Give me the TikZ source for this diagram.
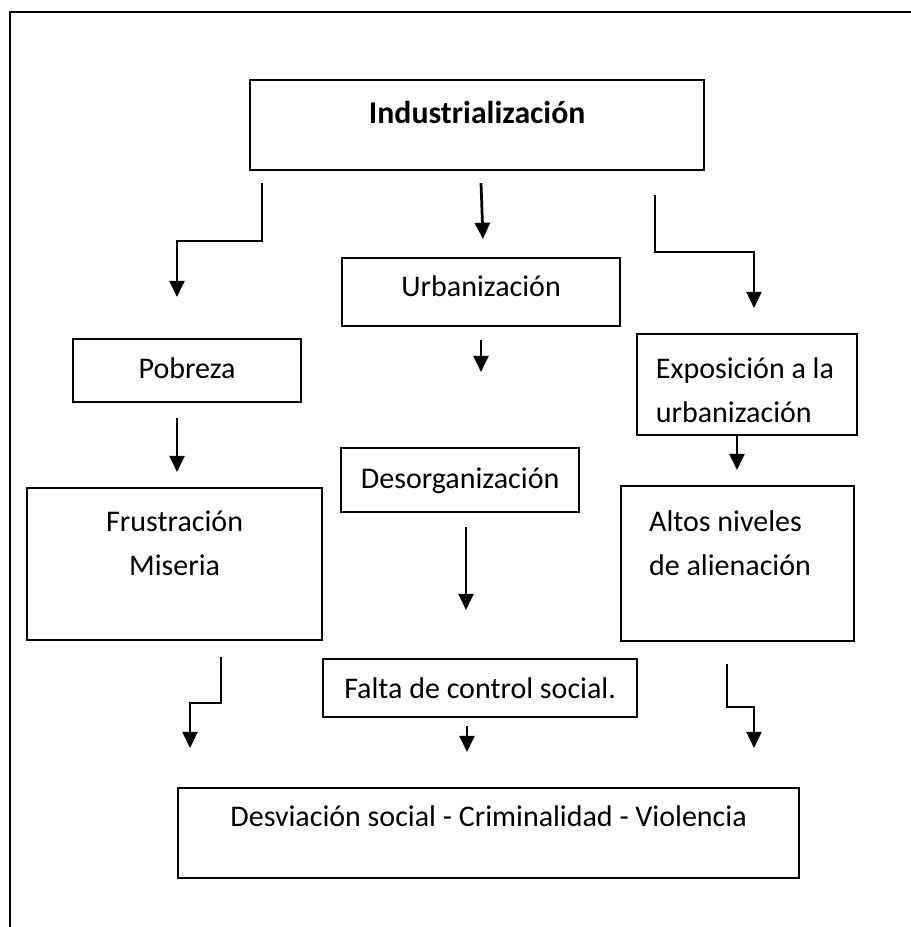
\documentclass[tikz,border=0pt]{standalone}
\usepackage{fontspec}
\setmainfont{Carlito}
\usetikzlibrary{arrows.meta}

\begin{document}
\begin{tikzpicture}[x=0.4pt, y=-0.4pt,
	every node/.style={font=\fontsize{12}{17.6}\selectfont},
	caja/.style={rectangle, draw, line width=0.9pt, inner sep=0pt, anchor=north west},
	flecha/.style={-{Triangle[width=6pt, length=6.5pt]}, line width=1.1pt}
	]

\useasboundingbox (0,0) rectangle (911,927);
\draw[line width=0.5pt] (10,927) -- (10,12) -- (911,12);

\node[caja, minimum width=181.6pt, text height=17.2pt, text depth=18.8pt, font=\fontsize{12.7}{17.6}\selectfont\bfseries] (ind) at (249,79) {Industrialización};
\node[caja, minimum width=111.2pt, text height=15.2pt, text depth=12pt] (urb) at (341,257) {Urbanización};
\node[caja, minimum width=91.2pt, text height=15.6pt, text depth=9.6pt] (pob) at (72,338) {Pobreza};
\node[caja, text width=73pt, inner xsep=7.5pt, align=flush left, text height=17.6pt, text depth=22.8pt] (exp) at (636,333) {Exposición a la\\urbanización};
\node[caja, minimum width=95.2pt, text height=16pt, text depth=9.6pt] (des) at (340,447) {Desorganización};
\node[caja, text width=118pt, align=center, text height=17.2pt, text depth=43.6pt] (fru) at (26,487) {Frustración\\Miseria};
\node[caja, text width=70.8pt, inner xsep=11.2pt, align=flush left, text height=18pt, text depth=44pt] (alt) at (620,485) {Altos niveles\\de alienación};
\node[caja, minimum width=125.6pt, text height=15.6pt, text depth=7.6pt] (fal) at (322,658) {Falta de control social.};
\node[caja, minimum width=248.4pt, text height=15.2pt, text depth=20.8pt] (viol) at (177,787) {Desviación social - Criminalidad - Violencia};

\coordinate (i1) at (262,183);
\coordinate (k1) at (262,241);
\coordinate (p1) at (177,297);
\coordinate (i2) at (481,183);
\coordinate (u2) at (483,239);
\coordinate (i3) at (655,195);
\coordinate (k3) at (655,252);
\coordinate (e3) at (754,308);
\coordinate (u4) at (481,340);
\coordinate (d4) at (481,372);
\coordinate (p5) at (177,418);
\coordinate (f5) at (177,472);
\coordinate (e6) at (737,434);
\coordinate (a6) at (737,470);
\coordinate (d7) at (466,527);
\coordinate (f7) at (466,610);
\coordinate (f8) at (221,657);
\coordinate (k8) at (221,703);
\coordinate (v8) at (190,748);
\coordinate (f9) at (467,726);
\coordinate (v9) at (467,752);
\coordinate (a10) at (727,664);
\coordinate (k10) at (727,707);
\coordinate (v10) at (754,748);

\draw[flecha] (i1) -- (k1) -| (p1);
\draw[flecha] (i2) -- (u2);
\draw[flecha] (i3) -- (k3) -| (e3);
\draw[flecha] (u4) -- (d4);
\draw[flecha] (p5) -- (f5);
\draw[flecha] (e6) -- (a6);
\draw[flecha] (d7) -- (f7);
\draw[flecha] (f8) -- (k8) -| (v8);
\draw[flecha] (f9) -- (v9);
\draw[flecha] (a10) -- (k10) -| (v10);

\end{tikzpicture}
\end{document}
